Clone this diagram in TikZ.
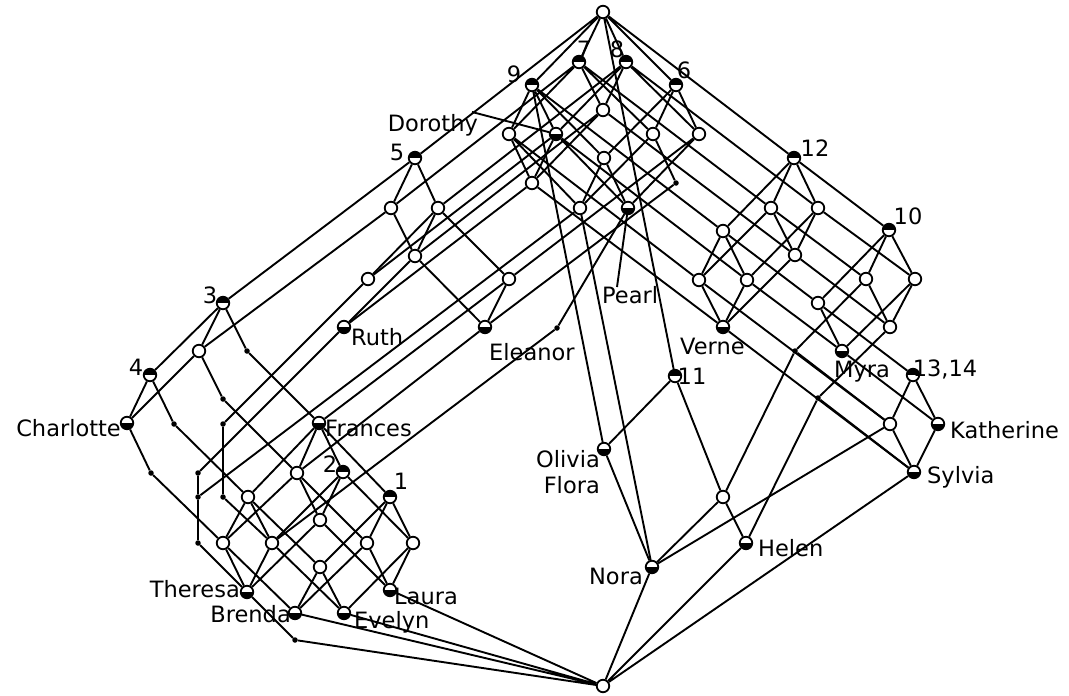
\documentclass[tikz,border=0pt]{standalone}
\usepackage{fontspec}
\setmainfont{DejaVu Sans}
\usetikzlibrary{backgrounds}

\begin{document}
\begin{tikzpicture}[x=1pt, y=-1pt,
	vertex/.style={circle, draw, fill=white, line width=1.8pt, inner sep=0pt, minimum size=12.5pt},
	evt/.style={vertex, path picture={\fill[black] (path picture bounding box.west) rectangle (path picture bounding box.north east);}},
	obj/.style={vertex, path picture={\fill[black] (path picture bounding box.south west) rectangle (path picture bounding box.east);}},
	bendpt/.style={circle, fill=black, inner sep=0pt, minimum size=5.5pt},
	lbl/.style={font=\fontsize{22.5}{26}\selectfont, inner sep=0pt, align=right},
	link/.style={line width=1.9pt}
	]
	\useasboundingbox (0,0) rectangle (1069,696);

	% upper part
	\node[vertex] (top) at (603,12) {};
	\node[evt] (c7) at (579,62) {};
	\node[evt] (c8) at (626,62) {};
	\node[evt] (c9) at (532,85) {};
	\node[evt] (c6) at (676,85) {};
	\node[vertex] (c78) at (603,110) {};
	\node[vertex] (c79) at (509,134) {};
	\node[obj] (Do) at (556,134) {};
	\node[vertex] (c67) at (653,134) {};
	\node[vertex] (c68) at (699,134) {};
	\node[vertex] (c69) at (604,158) {};
	\node[vertex] (c789) at (532,183) {};
	\node[vertex] (c679) at (580,208) {};
	\node[obj] (Pe) at (628,208) {};

	% block of event 5
	\node[evt] (c5) at (415,158) {};
	\node[vertex] (c57) at (391,208) {};
	\node[vertex] (c58) at (438,208) {};
	\node[vertex] (c578) at (415,256) {};
	\node[vertex] (c589) at (368,279) {};
	\node[vertex] (c568) at (509,279) {};
	\node[obj] (Ru) at (344,327) {};
	\node[obj] (El) at (485,327) {};

	% block of event 12
	\node[evt] (c12) at (794,158) {};
	\node[vertex] (c712) at (771,208) {};
	\node[vertex] (c812) at (818,208) {};
	\node[vertex] (c912) at (723,231) {};
	\node[vertex] (c7812) at (795,255) {};
	\node[vertex] (c7912) at (699,280) {};
	\node[vertex] (c8912) at (747,280) {};
	\node[obj] (Ve) at (723,327) {};
	\node[evt] (c1012) at (889,230) {};
	\node[vertex] (c71012) at (866,279) {};
	\node[vertex] (c81012) at (915,279) {};
	\node[vertex] (c91012) at (818,303) {};
	\node[vertex] (c781012) at (890,327) {};
	\node[obj] (My) at (842,351) {};
	\node[evt] (c1314) at (913,375) {};
	\node[vertex] (c79s) at (890,424) {};
	\node[obj] (Ka) at (938,424) {};
	\node[obj] (Sy) at (914,472) {};

	% event 11
	\node[evt] (c11) at (675,376) {};
	\node[obj] (Ol) at (604,449) {};
	\node[vertex] (c71112) at (723,497) {};
	\node[obj] (He) at (746,543) {};
	\node[obj] (No) at (652,567) {};

	% block of event 3
	\node[evt] (c35) at (223,303) {};
	\node[vertex] (c357) at (199,351) {};
	\node[evt] (c345) at (150,375) {};
	\node[obj] (Ch) at (127,423) {};
	\node[obj] (Fr) at (319,423) {};
	\node[vertex] (c35678) at (297,473) {};
	\node[evt] (c23568) at (343,472) {};
	\node[evt] (c13568) at (390,497) {};
	\node[vertex] (c34568) at (248,497) {};
	\node[vertex] (c345678) at (223,543) {};
	\node[vertex] (c235678) at (320,520) {};
	\node[vertex] (c135678) at (367,543) {};
	\node[vertex] (c123568) at (413,543) {};
	\node[vertex] (c134568) at (320,567) {};
	\node[vertex] (c2345689) at (272,543) {};
	\node[obj] (La) at (390,590) {};
	\node[obj] (Br) at (295,613) {};
	\node[obj] (Th) at (247,592) {};
	\node[obj] (Ev) at (344,613) {};

	\node[vertex] (bot) at (603,686) {};

	% bends
	\node[bendpt] (k1) at (247,351) {};
	\node[bendpt] (k2) at (223,399) {};
	\node[bendpt] (k3) at (174,424) {};
	\node[bendpt] (k4) at (151,473) {};
	\node[bendpt] (k5) at (223,424) {};
	\node[bendpt] (k6) at (223,497) {};
	\node[bendpt] (k7) at (198,473) {};
	\node[bendpt] (k8) at (198,497) {};
	\node[bendpt] (k9) at (198,543) {};
	\node[bendpt] (k10) at (557,328) {};
	\node[bendpt] (k11) at (676,183) {};
	\node[bendpt] (k12) at (795,351) {};
	\node[bendpt] (k13) at (818,398) {};
	\node[bendpt] (k14) at (295,640) {};

	% labels
	\node[lbl] (l9) at (514,74) {9};
	\node[lbl] (l7) at (584,49) {7};
	\node[lbl] (l8) at (617,49) {8};
	\node[lbl] (l6) at (684,70) {6};
	\node[lbl] (l5) at (397,152) {5};
	\node[lbl] (l12) at (815,148) {12};
	\node[lbl] (l10) at (908,216) {10};
	\node[lbl] (l3) at (210,295) {3};
	\node[lbl] (l4) at (136,367) {4};
	\node[lbl] (l2) at (330,464) {2};
	\node[lbl] (l1) at (401,481) {1};
	\node[lbl] (l11) at (692,376) {11};
	\node[lbl] (l1314) at (945,369) {13,14};
	\node[lbl, anchor=east] (lDo) at (478,125) {Dorothy};
	\node[lbl, anchor=east] (lCh) at (121,428) {Charlotte};
	\node[lbl, anchor=west] (lFr) at (325,428) {Frances};
	\node[lbl, anchor=east] (lTh) at (240,589) {Theresa};
	\node[lbl, anchor=west] (lLa) at (394,596) {Laura};
	\node[lbl, anchor=east] (lBr) at (291,614) {Brenda};
	\node[lbl, anchor=west] (lEv) at (354,622) {Evelyn};
	\node[lbl, anchor=west] (lRu) at (351,337) {Ruth};
	\node[lbl, anchor=west] (lEl) at (489,352) {Eleanor};
	\node[lbl, anchor=west] (lVe) at (680,346) {Verne};
	\node[lbl, anchor=west] (lPe) at (602,295) {Pearl};
	\node[lbl, anchor=east] (lOl) at (600,472) {Olivia\\Flora};
	\node[lbl, anchor=west] (lMy) at (834,372) {Myra};
	\node[lbl, anchor=west] (lKa) at (950,430) {Katherine};
	\node[lbl, anchor=west] (lSy) at (927,477) {Sylvia};
	\node[lbl, anchor=west] (lHe) at (758,548) {Helen};
	\node[lbl, anchor=east] (lNo) at (643,576) {Nora};
	\coordinate (pDo) at (472,112);
	\coordinate (pPe) at (617,287);

	\begin{scope}[on background layer]
	\draw[link] (top) -- (c7) (top) -- (c8) (top) -- (c9) (top) -- (c6) (top) -- (c5) (top) -- (c12) (top) -- (c11);
	\draw[link] (c7) -- (c78) (c7) -- (c79) (c7) -- (c67) (c7) -- (c57) (c7) -- (c712);
	\draw[link] (c8) -- (c78) (c8) -- (Do) (c8) -- (c68) (c8) -- (c58) (c8) -- (c812);
	\draw[link] (c9) -- (c79) (c9) -- (Do) (c9) -- (c69) (c9) -- (c912) (c9) -- (Ol);
	\draw[link] (c6) -- (c67) (c6) -- (c69) (c6) -- (c68);
	\draw[link] (c78) -- (c789) (c78) -- (c578) (c78) -- (c7812);
	\draw[link] (c79) -- (c789) (c79) -- (c679) (c79) -- (c7912);
	\draw[link] (Do) -- (c789) (Do) -- (Pe) (Do) -- (c589) (Do) -- (c8912);
	\draw[link] (c67) -- (c679) (c67) -- (k11) -- (El);
	\draw[link] (c69) -- (c679) (c69) -- (Pe);
	\draw[link] (c68) -- (Pe) (c68) -- (c568);
	\draw[link] (c789) -- (Ru) (c789) -- (Ve);
	\draw[link] (c679) -- (No) (c679) -- (k8);
	\draw[link] (Pe) -- (k10) -- (c2345689);
	\draw[link] (c5) -- (c57) (c5) -- (c58) (c5) -- (c35);
	\draw[link] (c57) -- (c578) (c57) -- (c357);
	\draw[link] (c58) -- (c578) (c58) -- (c589) (c58) -- (c568);
	\draw[link] (c578) -- (Ru) (c578) -- (El);
	\draw[link] (c589) -- (k5) -- (k6) -- (c2345689);
	\draw[link] (c568) -- (El) (c568) -- (Fr);
	\draw[link] (Ru) -- (k7) -- (k8) -- (k9) -- (Th);
	\draw[link] (El) -- (c35678);
	\draw[link] (c35) -- (c357) (c35) -- (c345) (c35) -- (k1) -- (Fr);
	\draw[link] (c357) -- (Ch) (c357) -- (k2) -- (c35678);
	\draw[link] (c345) -- (Ch) (c345) -- (k3) -- (c34568);
	\draw[link] (Ch) -- (k4) -- (c345678);
	\draw[link] (Fr) -- (c35678) (Fr) -- (c34568) (Fr) -- (c23568) (Fr) -- (c13568);
	\draw[link] (c35678) -- (c345678) (c35678) -- (c235678) (c35678) -- (c135678);
	\draw[link] (c34568) -- (c345678) (c34568) -- (c134568) (c34568) -- (c2345689);
	\draw[link] (c23568) -- (c235678) (c23568) -- (c123568) (c23568) -- (c2345689);
	\draw[link] (c13568) -- (c135678) (c13568) -- (c123568) (c13568) -- (c134568);
	\draw[link] (c345678) -- (Br) (c345678) -- (Th);
	\draw[link] (c235678) -- (La) (c235678) -- (Th);
	\draw[link] (c135678) -- (La) (c135678) -- (Br);
	\draw[link] (c123568) -- (La) (c123568) -- (Ev);
	\draw[link] (c134568) -- (Br) (c134568) -- (Ev);
	\draw[link] (c2345689) -- (Th) (c2345689) -- (Ev);
	\draw[link] (c12) -- (c712) (c12) -- (c812) (c12) -- (c912) (c12) -- (c1012);
	\draw[link] (c712) -- (c7812) (c712) -- (c7912) (c712) -- (c71012);
	\draw[link] (c812) -- (c7812) (c812) -- (c8912) (c812) -- (c81012);
	\draw[link] (c912) -- (c7912) (c912) -- (c8912) (c912) -- (c91012);
	\draw[link] (c1012) -- (c71012) (c1012) -- (c81012) (c1012) -- (c91012);
	\draw[link] (c7812) -- (Ve) (c7812) -- (c781012);
	\draw[link] (c7912) -- (Ve) (c7912) -- (c79s);
	\draw[link] (c8912) -- (Ve) (c8912) -- (My);
	\draw[link] (c71012) -- (c781012) (c71012) -- (k12) -- (c79s);
	\draw[link] (c81012) -- (c781012) (c81012) -- (My);
	\draw[link] (c91012) -- (My) (c91012) -- (c1314);
	\draw[link] (c781012) -- (k13) -- (Sy);
	\draw[link] (My) -- (Ka) (c1314) -- (Ka) (c1314) -- (c79s);
	\draw[link] (c79s) -- (Sy) (c79s) -- (No) (Ka) -- (Sy) (Ve) -- (Sy);
	\draw[link] (c11) -- (Ol) (c11) -- (c71112) (Ol) -- (No);
	\draw[link] (c71112) -- (He) (c71112) -- (No) (c71112) -- (k12);
	\draw[link] (He) -- (k13);
	\draw[link] (He) -- (bot) (No) -- (bot) (Sy) -- (bot);
	\draw[link] (Ev) -- (bot) (La) -- (bot) (Br) -- (bot) (Th) -- (k14) -- (bot);
	\draw[link] (pDo) -- (Do) (pPe) -- (Pe);
	\end{scope}
\end{tikzpicture}
\end{document}
